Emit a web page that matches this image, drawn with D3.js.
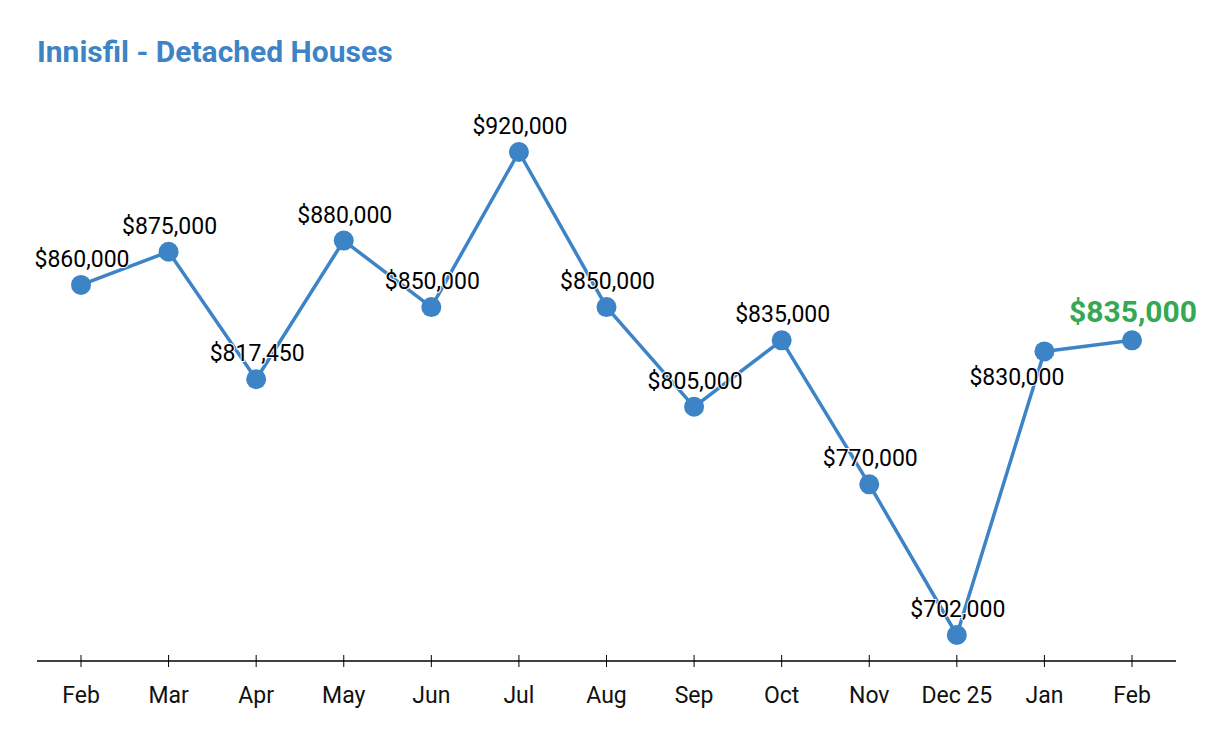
<!DOCTYPE html>
<html>
<head>
<meta charset="utf-8">
<script src="https://cdn.jsdelivr.net/npm/d3@7"></script>
<style>
  body { margin: 0; background: #fff; }
  svg { display: block; font-family: Roboto, sans-serif; }
</style>
</head>
<body>
<svg width="1214" height="741"></svg>
<script>
// chart data
const months = ['Feb', 'Mar', 'Apr', 'May', 'Jun', 'Jul', 'Aug', 'Sep', 'Oct', 'Nov', 'Dec 25', 'Jan', 'Feb'];
const prices = [860000, 875000, 817450, 880000, 850000, 920000, 850000, 805000, 835000, 770000, 702000, 830000, 835000];

const blue = '#3d84c6';
const green = '#34a853';

const svg = d3.select('svg');

// title
svg.append('text')
  .attr('x', 37)
  .attr('y', 62)
  .attr('font-size', 30)
  .attr('font-weight', 'bold')
  .attr('fill', blue)
  .text('Innisfil - Detached Houses');

const idx = d3.range(months.length);

const x = d3.scalePoint().domain(idx).range([81, 1132]);
const y = d3.scaleLinear().domain([702000, 920000]).range([635, 152]);

// x axis
const axis = svg.append('g').attr('transform', 'translate(0,661)');
axis.append('line')
  .attr('x1', 37).attr('x2', 1176)
  .attr('stroke', '#000').attr('stroke-width', 1.3);
axis.selectAll('.tick')
  .data(idx)
  .enter()
  .append('line')
  .attr('x1', (d) => x(d)).attr('x2', (d) => x(d))
  .attr('y1', -6).attr('y2', 6)
  .attr('stroke', '#000').attr('stroke-width', 1);
axis.selectAll('.lbl')
  .data(idx)
  .enter()
  .append('text')
  .attr('x', (d) => x(d))
  .attr('y', 42)
  .attr('text-anchor', 'middle')
  .attr('font-size', 23)
  .attr('fill', '#111')
  .text((d) => months[d]);

// line
const line = d3.line().x((d) => x(d)).y((d) => y(prices[d]));
svg.append('path')
  .datum(idx)
  .attr('d', line)
  .attr('fill', 'none')
  .attr('stroke', blue)
  .attr('stroke-width', 3.5)
  .attr('stroke-linejoin', 'round');

// points
svg.append('g')
  .selectAll('circle')
  .data(idx)
  .enter()
  .append('circle')
  .attr('cx', (d) => x(d))
  .attr('cy', (d) => y(prices[d]))
  .attr('r', 10)
  .attr('fill', blue);

// value labels
const fmt = (v) => '$' + d3.format(',')(v);
const last = prices.length - 1;

svg.append('g')
  .selectAll('text')
  .data(idx)
  .enter()
  .append('text')
  .attr('x', (d) => (d === 11 ? x(d) + 20 : x(d) + 1))
  .attr('y', (d) => {
    if (d === 11) return y(prices[d]) + 34;
    return y(prices[d]) - 18;
  })
  .attr('text-anchor', (d) => (d === 11 ? 'end' : 'middle'))
  .attr('font-size', (d) => (d === last ? 30 : 23))
  .attr('font-weight', (d) => (d === last ? 'bold' : 'normal'))
  .attr('fill', (d) => (d === last ? green : '#000'))
  .attr('stroke', '#fff')
  .attr('stroke-width', 2)
  .attr('paint-order', 'stroke')
  .text((d) => fmt(prices[d]));
</script>
</body>
</html>
